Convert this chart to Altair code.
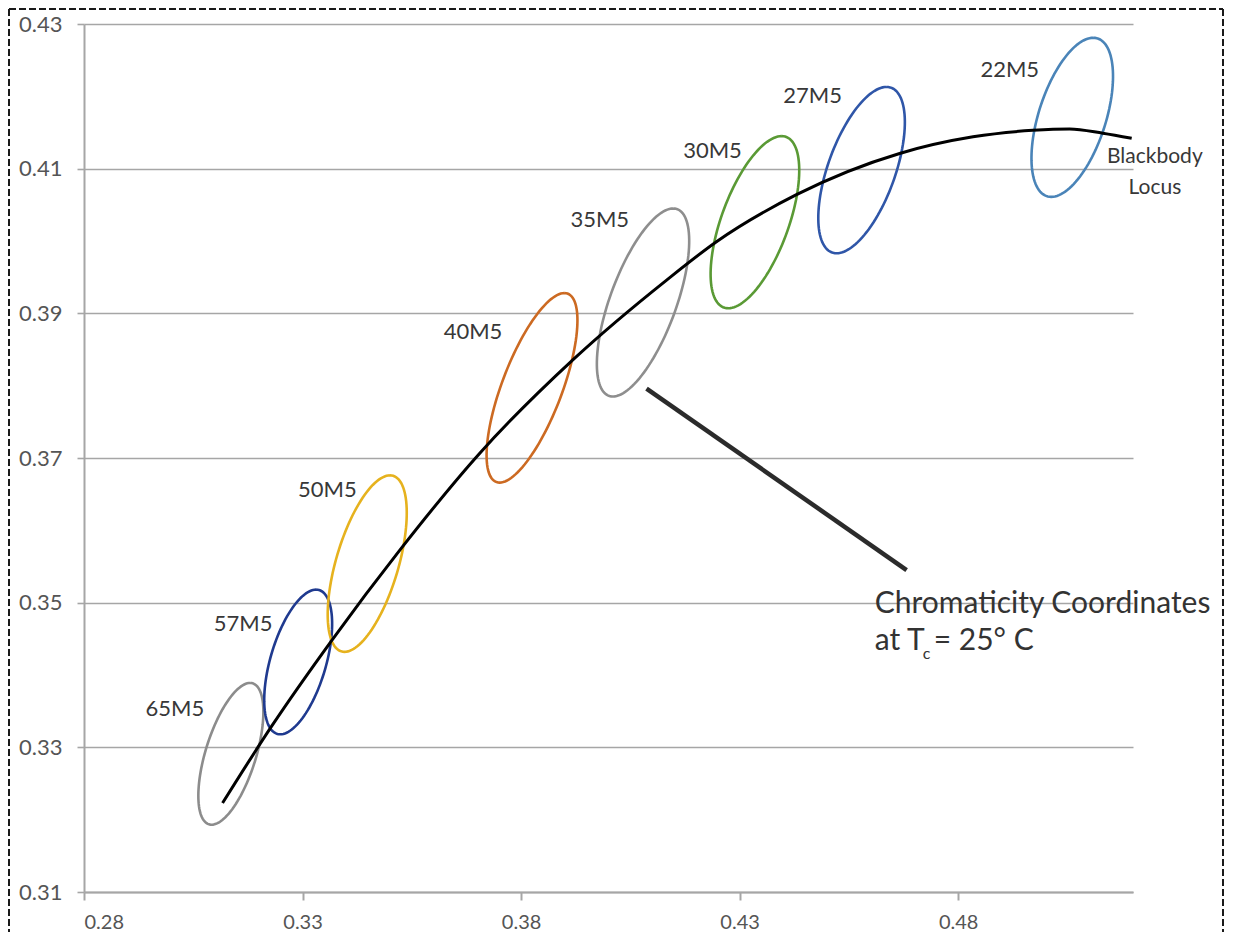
import altair as alt
import numpy as np
import pandas as pd

# ---- data ----
# Blackbody locus (CIE x, y)
locus_x = [0.3117, 0.3229, 0.3367, 0.3523, 0.3706, 0.3919, 0.4133, 0.4247,
           0.4430, 0.4666, 0.4834, 0.4971, 0.5055, 0.5131, 0.5197]
locus_y = [0.3223, 0.3329, 0.3448, 0.3573, 0.3707, 0.3836, 0.3946, 0.3999,
           0.4064, 0.4121, 0.4144, 0.4153, 0.4155, 0.4149, 0.4142]

# MacAdam ellipses: centre, half-vector to top-most point, horizontal half-width
ell_names = ["65M5", "57M5", "50M5", "40M5", "35M5", "30M5", "27M5", "22M5"]
ell_cx = [0.3136, 0.3290, 0.3448, 0.3825, 0.4079, 0.4335, 0.4579, 0.5061]
ell_cy = [0.3291, 0.3418, 0.3554, 0.3797, 0.3915, 0.4026, 0.4098, 0.4171]
ell_ux = [0.0044, 0.0041, 0.0052, 0.0074, 0.0069, 0.0061, 0.0057, 0.0048]
ell_uy = [0.0098, 0.0100, 0.0122, 0.0131, 0.0130, 0.0119, 0.0115, 0.0110]
ell_w = [0.0060, 0.0066, 0.0074, 0.0073, 0.0080, 0.0081, 0.0081, 0.0080]
ell_colors = ["#8c8c8c", "#1f3a8f", "#e6b21e", "#cc6a22", "#8e8e8e",
              "#5a9a35", "#2f56a8", "#4a84b8"]

# ellipse label positions
lab_x = [0.3008, 0.3164, 0.3357, 0.3690, 0.3980, 0.4238, 0.4467, 0.4918]
lab_y = [0.3353, 0.3471, 0.3656, 0.3874, 0.4029, 0.4125, 0.4201, 0.4236]

locus_label = ["Blackbody", "Locus"]
locus_label_x = [0.5250, 0.5250]
locus_label_y = [0.4116, 0.4073]

# annotation pointer and text
ptr_x = [0.4087]
ptr_y = [0.3796]
ptr_x2 = [0.4682]
ptr_y2 = [0.3545]
note_x = 0.4609
note_y1 = 0.34857
note_y2 = 0.34345

x_ticks = [0.28, 0.33, 0.38, 0.43, 0.48]
y_ticks = [0.31, 0.33, 0.35, 0.37, 0.39, 0.41, 0.43]

# ---- build tables ----
t = np.linspace(0, 2 * np.pi, 121)
rows = []
for i, n in enumerate(ell_names):
    for k, tt in enumerate(t):
        rows.append({
            "name": n, "k": k,
            "x": ell_cx[i] + ell_ux[i] * np.cos(tt) + ell_w[i] * np.sin(tt),
            "y": ell_cy[i] + ell_uy[i] * np.cos(tt),
        })
ell_df = pd.DataFrame(rows)
locus_df = pd.DataFrame({"x": locus_x, "y": locus_y})
lab_df = pd.DataFrame({"name": ell_names, "x": lab_x, "y": lab_y})
loc_lab_df = pd.DataFrame({"t": locus_label, "x": locus_label_x, "y": locus_label_y})
ptr_df = pd.DataFrame({"x": ptr_x, "y": ptr_y, "x2": ptr_x2, "y2": ptr_y2})
note_df = pd.DataFrame({"x": [note_x], "y1": [note_y1], "y2": [note_y2]})

xs = alt.Scale(domain=[0.28, 0.52], nice=False, zero=False)
ys = alt.Scale(domain=[0.31, 0.43], nice=False, zero=False)

AX = "#a6a6a6"
x_axis = alt.Axis(values=x_ticks, format=".2f", grid=False, title=None,
                  domainColor=AX, domainWidth=2, tickColor=AX, tickWidth=2,
                  tickSize=8, labelFont="Lato", labelFontSize=20,
                  labelColor="#555555", labelPadding=12)
y_axis = alt.Axis(values=y_ticks, format=".2f", grid=True, title=None,
                  gridColor=AX, gridWidth=1.6, domainColor=AX, domainWidth=2,
                  tickColor=AX, tickWidth=1.6, tickSize=7, labelFont="Lato",
                  labelFontSize=22, labelColor="#555555", labelPadding=15)

# dashed frame (decoration): top, left and right edges
one = pd.DataFrame({"a": [0]})
frame_style = dict(color="#1a1a1a", strokeWidth=2, strokeDash=[7, 3])
frame_top = alt.Chart(one).mark_rule(**frame_style).encode(
    x=alt.value(-75), x2=alt.value(1139), y=alt.value(-15))
frame_left = alt.Chart(one).mark_rule(**frame_style).encode(
    x=alt.value(-75), y=alt.value(-15), y2=alt.value(925))
frame_right = alt.Chart(one).mark_rule(**frame_style).encode(
    x=alt.value(1139), y=alt.value(-15), y2=alt.value(925))

ellipses = alt.Chart(ell_df).mark_line(strokeWidth=2.6).encode(
    x=alt.X("x:Q", scale=xs, axis=x_axis),
    y=alt.Y("y:Q", scale=ys, axis=y_axis),
    color=alt.Color("name:N", scale=alt.Scale(domain=ell_names, range=ell_colors), legend=None),
    detail="name:N",
    order="k:Q",
)

locus = alt.Chart(locus_df).mark_line(color="#000000", strokeWidth=3,
                                       interpolate="monotone").encode(
    x=alt.X("x:Q", scale=xs), y=alt.Y("y:Q", scale=ys))

ptr = alt.Chart(ptr_df).mark_rule(color="#2b2b2b", strokeWidth=4.5).encode(
    x=alt.X("x:Q", scale=xs), y=alt.Y("y:Q", scale=ys), x2="x2:Q", y2="y2:Q")

labels = alt.Chart(lab_df).mark_text(font="Lato", fontSize=22, color="#383838",
                                      align="center", baseline="middle").encode(
    x=alt.X("x:Q", scale=xs), y=alt.Y("y:Q", scale=ys), text="name:N")

loc_labels = alt.Chart(loc_lab_df).mark_text(font="Lato", fontSize=21, color="#383838",
                                              align="center", baseline="middle").encode(
    x=alt.X("x:Q", scale=xs), y=alt.Y("y:Q", scale=ys), text="t:N")

note_base = alt.Chart(note_df)
note1 = note_base.mark_text(font="Lato", fontSize=30, color="#333333", align="left",
                            baseline="alphabetic", text="Chromaticity Coordinates").encode(
    x=alt.X("x:Q", scale=xs), y=alt.Y("y1:Q", scale=ys))
note2 = note_base.mark_text(font="Lato", fontSize=30, color="#333333", align="left",
                            baseline="alphabetic", text="at T").encode(
    x=alt.X("x:Q", scale=xs), y=alt.Y("y2:Q", scale=ys))
note3 = note_base.mark_text(font="Lato", fontSize=16, color="#333333", align="left",
                            baseline="alphabetic", text="c", dx=48, dy=9).encode(
    x=alt.X("x:Q", scale=xs), y=alt.Y("y2:Q", scale=ys))
note4 = note_base.mark_text(font="Lato", fontSize=30, color="#333333", align="left",
                            baseline="alphabetic", text="= 25° C", dx=59).encode(
    x=alt.X("x:Q", scale=xs), y=alt.Y("y2:Q", scale=ys))

chart = alt.layer(frame_top, frame_left, frame_right, ellipses, locus, ptr,
                  labels, loc_labels, note1, note2, note3, note4).properties(
    width=1049, height=868,
    autosize=alt.AutoSizeParams(type="none"),
    padding={"left": 76, "top": 16, "right": 92, "bottom": 40},
    background="#ffffff",
).configure_view(stroke=None)

chart.save("out.html", embed_options={"renderer": "svg", "actions": False})
